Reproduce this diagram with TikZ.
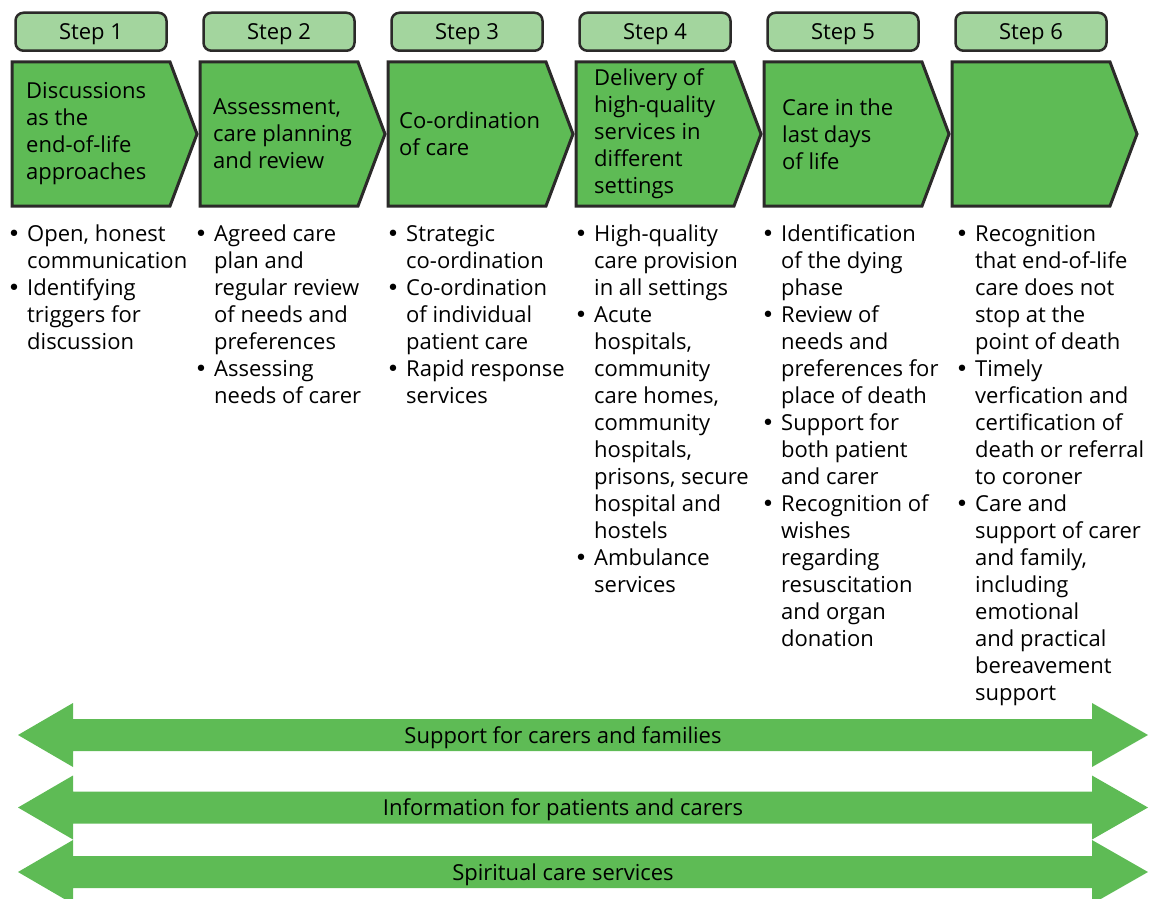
\documentclass[tikz,border=0pt]{standalone}
\usepackage{fontspec}
\setmainfont{Open Sans}
\newfontfamily\dotfont{DejaVu Sans}
\usetikzlibrary{positioning}

\definecolor{stepgreen}{HTML}{5EBB55}
\definecolor{steplight}{HTML}{A3D59E}
\definecolor{stepline}{HTML}{2B2A29}

\tikzset{
  steplabel/.style = {
    rectangle, rounded corners = 8pt,
    draw = stepline, line width = 2.5pt, fill = steplight,
    minimum width = 151pt, minimum height = 38pt, inner sep = 0pt,
    text depth = 0pt,
  },
  chevron/.style = {
    rectangle, minimum width = 158pt, minimum height = 144pt,
    inner sep = 0pt, outer sep = 0pt,
  },
  chevronfill/.style = {draw = stepline, line width = 3pt, fill = stepgreen},
  headtext/.style = {anchor = west, align = left, inner sep = 0pt},
  bullets/.style = {anchor = north west, align = left, inner sep = 0pt},
  band/.style = {fill = stepgreen},
  bandtext/.style = {inner sep = 0pt, text depth = 0pt},
}
\newcommand\bl{\strut\llap{\makebox[26pt][c]{\dotfont\textbullet}}}

\begin{document}
\begin{tikzpicture}[x = 1pt, y = -1pt, font = \fontsize{22}{27}\selectfont]
  \useasboundingbox (0,0) rectangle (1154,899);

  % the six chevrons
  \node[chevron] (c1) at (91,134) {};
  \node[chevron, right = 30pt of c1] (c2) {};
  \node[chevron, right = 30pt of c2] (c3) {};
  \node[chevron, right = 30pt of c3] (c4) {};
  \node[chevron, right = 30pt of c4] (c5) {};
  \node[chevron, right = 30pt of c5] (c6) {};

  \foreach \i in {1,...,6} {
    \draw[chevronfill]
      (c\i.north west) -- (c\i.north east) -- ([xshift = 27pt]c\i.east)
      -- (c\i.south east) -- (c\i.south west) -- cycle;
    \node[steplabel, above = 10pt of c\i] (s\i) {Step \i};
  }

  % headings
  \node[headtext] (h1) at ([xshift = 14pt]c1.west)
    {Discussions\\as the\\end-of-life\\approaches};
  \node[headtext] (h2) at ([xshift = 13pt]c2.west)
    {Assessment,\\care planning\\and review};
  \node[headtext] (h3) at ([xshift = 11pt]c3.west)
    {Co-ordination\\of care};
  \node[headtext] (h4) at ([xshift = 18pt]c4.west)
    {Delivery of\\high-quality\\services in\\different\\settings};
  \node[headtext] (h5) at ([xshift = 18pt]c5.west)
    {Care in the\\last days\\of life};

  % bullet lists
  \node[bullets] (b1) at ([xshift = 15pt, yshift = -16.5pt]c1.south west)
    {\bl Open, honest\\communication\\
     \bl Identifying\\triggers for\\discussion};
  \node[bullets] (b2) at ([xshift = 14pt, yshift = -16.5pt]c2.south west)
    {\bl Agreed care\\plan and\\regular review\\of needs and\\preferences\\
     \bl Assessing\\needs of carer};
  \node[bullets] (b3) at ([xshift = 18pt, yshift = -16.5pt]c3.south west)
    {\bl Strategic\\co-ordination\\
     \bl Co-ordination\\of individual\\patient care\\
     \bl Rapid response\\services};
  \node[bullets] (b4) at ([xshift = 18pt, yshift = -16.5pt]c4.south west)
    {\bl High-quality\\care provision\\in all settings\\
     \bl Acute\\hospitals,\\community\\care homes,\\community\\hospitals,\\prisons, secure\\hospital and\\hostels\\
     \bl Ambulance\\services};
  \node[bullets] (b5) at ([xshift = 17pt, yshift = -16.5pt]c5.south west)
    {\bl Identification\\of the dying\\phase\\
     \bl Review of\\needs and\\preferences for\\place of death\\
     \bl Support for\\both patient\\and carer\\
     \bl Recognition of\\wishes\\regarding\\resuscitation\\and organ\\donation};
  \node[bullets] (b6) at ([xshift = 23pt, yshift = -16.5pt]c6.south west)
    {\bl Recognition\\that end-of-life\\care does not\\stop at the\\point of death\\
     \bl Timely\\verfication and\\certification of\\death or referral\\to coroner\\
     \bl Care and\\support of carer\\and family,\\including\\emotional\\and practical\\bereavement\\support};

  % the three bands
  \foreach \y/\name/\txt in {
      735/carers/Support for carers and families,
      807.5/info/Information for patients and carers,
      872/faith/Spiritual care services} {
    \fill[band]
      (18,\y) -- (73,\y-32) -- (73,\y-16) -- (1092,\y-16) -- (1092,\y-32)
      -- (1148,\y) -- (1092,\y+32) -- (1092,\y+16) -- (73,\y+16)
      -- (73,\y+32) -- cycle;
    \node[bandtext] (l-\name) at (563,\y) {\txt};
  }
\end{tikzpicture}
\end{document}
